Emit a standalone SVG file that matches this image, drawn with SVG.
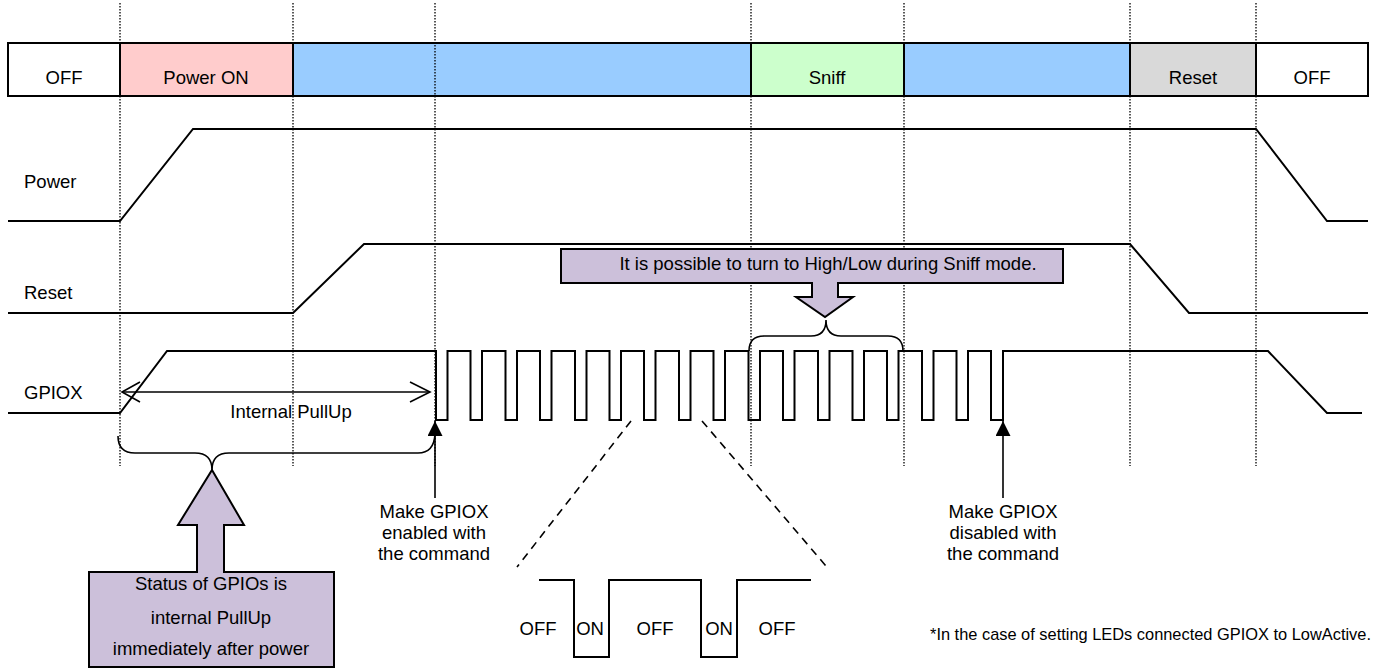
<svg xmlns="http://www.w3.org/2000/svg" width="1377" height="668" viewBox="0 0 1377 668">
<style>
text{font-family:"Liberation Sans",Arial,sans-serif;font-size:18.5px;fill:#000}
.m{text-anchor:middle}
.dot{stroke:#000;stroke-width:1.3;stroke-dasharray:1.5,1.5;fill:none}
.wave{stroke:#000;stroke-width:2;fill:none;stroke-linejoin:miter}
.seg{stroke:#000;stroke-width:2}
.call{fill:#CCC0DA;stroke:#000;stroke-width:2;stroke-linejoin:miter}
.thin{stroke:#000;stroke-width:1.6;fill:none}
.dash{stroke:#000;stroke-width:1.6;stroke-dasharray:8,6;fill:none}
</style>
<defs>
<marker id="tri" viewBox="0 0 10 10" refX="10" refY="5" markerWidth="15" markerHeight="15" markerUnits="userSpaceOnUse" orient="auto"><path d="M0,0 L10,5 L0,10 Z" fill="#000"/></marker>
</defs>
<rect width="1377" height="668" fill="#fff"/>

<g id="timeline">
<rect class="seg" x="8" y="43" width="112" height="53" fill="#fff"/>
<rect class="seg" x="120" y="43" width="173" height="53" fill="#FFCCCC"/>
<rect class="seg" x="293" y="43" width="458" height="53" fill="#99CCFF"/>
<rect class="seg" x="751" y="43" width="153" height="53" fill="#CCFFCC"/>
<rect class="seg" x="904" y="43" width="226" height="53" fill="#99CCFF"/>
<rect class="seg" x="1130" y="43" width="126" height="53" fill="#D9D9D9"/>
<rect class="seg" x="1256" y="43" width="112" height="53" fill="#fff"/>
<text class="m" x="64" y="84">OFF</text>
<text class="m" x="206" y="84">Power ON</text>
<text class="m" x="827" y="84">Sniff</text>
<text class="m" x="1193" y="84">Reset</text>
<text class="m" x="1312" y="84">OFF</text>
</g>

<g id="guides">
<line class="dot" x1="120" y1="3" x2="120" y2="466"/>
<line class="dot" x1="293" y1="3" x2="293" y2="466"/>
<line class="dot" x1="435" y1="3" x2="435" y2="466"/>
<line class="dot" x1="751" y1="3" x2="751" y2="466"/>
<line class="dot" x1="904" y1="3" x2="904" y2="466"/>
<line class="dot" x1="1130" y1="3" x2="1130" y2="466"/>
<line class="dot" x1="1256" y1="3" x2="1256" y2="466"/>
</g>

<g id="power">
<text x="24" y="188">Power</text>
<path class="wave" d="M8,221 H120 L193,129 H1256 L1327,221 H1368"/>
</g>

<g id="reset">
<text x="24" y="299">Reset</text>
<path class="wave" d="M8,313 H293 L364,244 H1130 L1189,313 H1368"/>
</g>

<g id="gpiox">
<text x="24" y="399">GPIOX</text>
<path class="wave" d="M8,413 H120 L167,351 H436 V420 H447.5 V351 H470.5 V420 H482 V351 H505.5 V420 H517 V351 H540 V420 H551.5 V351 H575 V420 H586.5 V351 H609.5 V420 H621 V351 H644 V420 H655.5 V351 H679 V420 H690.5 V351 H713.5 V420 H725 V351 H748.5 V420 H760 V351 H783 V420 H794.5 V351 H818 V420 H829.5 V351 H852.5 V420 H864 V351 H887 V420 H898.5 V351 H922 V420 H933.5 V351 H956.5 V420 H968 V351 H991 V420 H1003 V351 H1268 L1327,413 H1362"/>
</g>

<g id="pullup">
<line class="thin" x1="122" y1="392" x2="430" y2="392"/>
<path class="thin" d="M140,382 L122,392 L140,402 M410,382 L430,392 L410,402"/>
<text class="m" x="291" y="418">Internal PullUp</text>
</g>

<g id="braces">
<path class="thin" d="M118,436 Q118,453 135,453 H195 Q212,453 212,470 Q212,453 229,453 H418 Q434,453 435,434"/>
<path class="thin" d="M749,351 Q749,336 764,336 H811 Q826,336 826,320 Q826,336 841,336 H888 Q903,336 903,351"/>
</g>

<g id="sniff-callout">
<path class="call" d="M561,249 H1063 V283 H838 V297 H853 L825,317 L796,297 H812 V283 H561 Z"/>
<text class="m" x="828" y="270">It is possible to turn to High/Low during Sniff mode.</text>
</g>

<g id="status-callout">
<path class="call" d="M212,470 L244,525 H224 V572 H334 V667 H89 V572 H197 V525 H178 Z"/>
<text class="m" x="211" y="590">Status of GPIOs is</text>
<text class="m" x="211" y="624">internal PullUp</text>
<text class="m" x="211" y="655">immediately after power</text>
</g>

<g id="connectors">
<line class="thin" x1="435" y1="498" x2="435" y2="421" marker-end="url(#tri)"/>
<line class="thin" x1="1003" y1="498" x2="1003" y2="421" marker-end="url(#tri)"/>
<line class="dash" x1="631" y1="421" x2="517" y2="567"/>
<line class="dash" x1="702" y1="421" x2="826" y2="566"/>
</g>

<g id="enable-label">
<text class="m" x="434" y="518">Make GPIOX</text>
<text class="m" x="434" y="539">enabled with</text>
<text class="m" x="434" y="560">the command</text>
</g>

<g id="disable-label">
<text class="m" x="1003" y="518">Make GPIOX</text>
<text class="m" x="1003" y="539">disabled with</text>
<text class="m" x="1003" y="560">the command</text>
</g>

<g id="detail">
<path class="wave" d="M539,580 H574 V657 H609 V580 H701 V657 H737 V580 H811"/>
<text class="m" x="538" y="635">OFF</text>
<text class="m" x="590" y="635">ON</text>
<text class="m" x="655" y="635">OFF</text>
<text class="m" x="719" y="635">ON</text>
<text class="m" x="777" y="635">OFF</text>
</g>

<g id="note">
<text x="930" y="640" style="font-size:16.4px">*In the case of setting LEDs connected GPIOX to LowActive.</text>
</g>
</svg>
